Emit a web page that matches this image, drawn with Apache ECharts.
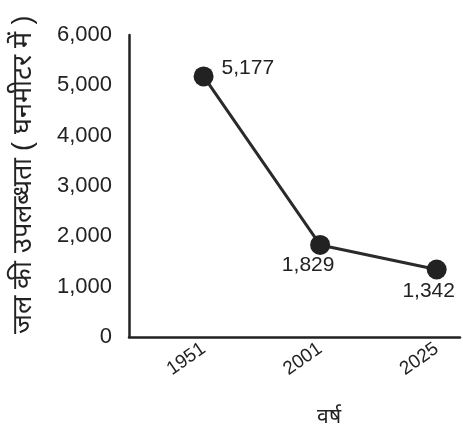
<!DOCTYPE html>
<html>
<head>
<meta charset="utf-8">
<script src="https://cdn.jsdelivr.net/npm/echarts@6/dist/echarts.min.js"></script>
<style>html,body{margin:0;padding:0;background:#fff}#c{width:463px;height:437px}</style>
</head>
<body>
<div id="c"></div>
<script>
const years = ['1951', '2001', '2025'];
const availability = [5177, 1829, 1342];
const yTicks = [0, 1000, 2000, 3000, 4000, 5000, 6000];
const yName = 'जल की उपलब्धता ( घनमीटर में )';
const xName = 'वर्ष';

const chart = echarts.init(document.getElementById('c'), null, {renderer: 'canvas'});
const fmt = v => v.toLocaleString('en-US');
const labelOffsets = [[3, -8], [-12, -5], [-8, -4]];
const labelPositions = ['right', 'bottom', 'bottom'];
chart.setOption({
  backgroundColor: '#fff',
  animation: false,
  grid: {left: 129, right: 3, top: 35, bottom: 100, containLabel: false, outerBoundsMode: 'none'},
  xAxis: {
    type: 'value',
    min: -0.64,
    max: 2.2,
    splitLine: {show: false},
    axisTick: {show: false},
    axisLine: {onZero: false, lineStyle: {color: '#222', width: 2.5}},
    axisLabel: {
      rotate: 35, margin: 10, fontSize: 19, color: '#222', fontFamily: 'Liberation Sans, Arial',
      showMinLabel: false, showMaxLabel: false,
      formatter: v => (Number.isInteger(v) && years[v] !== undefined) ? years[v] : ''
    },
    name: xName,
    nameLocation: 'middle',
    nameGap: 70,
    nameTextStyle: {fontSize: 21, color: '#222', padding: [0, 0, 0, 68]}
  },
  yAxis: {
    type: 'value',
    min: yTicks[0],
    max: yTicks[yTicks.length - 1],
    interval: 1000,
    splitLine: {show: false},
    axisTick: {show: false},
    axisLine: {show: true, onZero: false, lineStyle: {color: '#222', width: 2.5}},
    axisLabel: {margin: 17, fontSize: 22, color: '#222', fontFamily: 'Liberation Sans, Arial', formatter: v => fmt(v)},
    name: yName,
    nameLocation: 'middle',
    nameGap: 92,
    nameRotate: 90,
    nameTextStyle: {fontSize: 27, color: '#222', padding: [0, 0, 0, 22]}
  },
  series: [{
    type: 'line',
    symbol: 'circle',
    symbolSize: 20,
    itemStyle: {color: '#222'},
    lineStyle: {color: '#2a2a2a', width: 3},
    label: {
      show: true, fontSize: 21, color: '#222', fontFamily: 'Liberation Sans, Arial',
      formatter: p => fmt(p.value[1])
    },
    data: availability.map((v, i) => ({
      value: [i, v],
      label: {position: labelPositions[i], offset: labelOffsets[i]}
    }))
  }]
});
</script>
</body>
</html>
